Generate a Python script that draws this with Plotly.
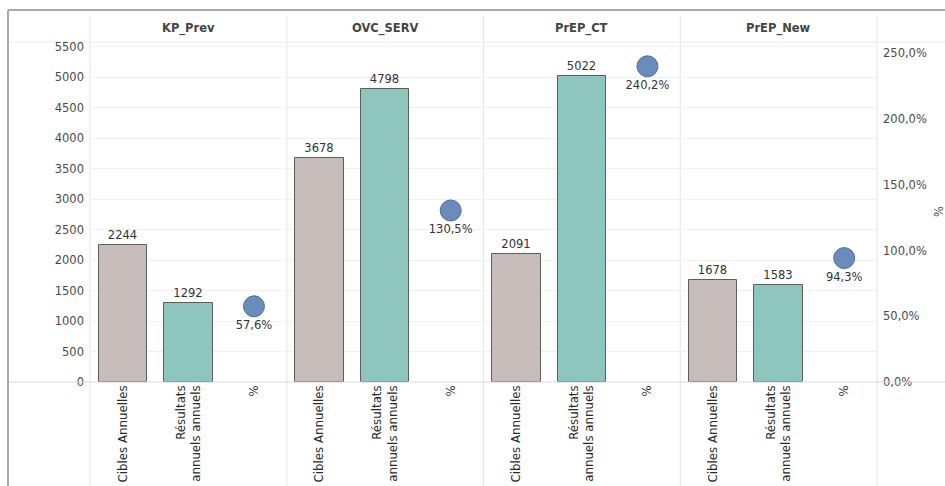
import plotly.graph_objects as go

# Indicators (panels) and the three measures shown in each
indicators = ["KP_Prev", "OVC_SERV", "PrEP_CT", "PrEP_New"]
measure_labels = ["Cibles Annuelles", "Résultats<br>annuels annuels", "%"]
cibles = [2244, 3678, 2091, 1678]
resultats = [1292, 4798, 5022, 1583]
pourcent = [57.6, 130.5, 240.2, 94.3]

count_ticks = list(range(0, 5501, 500))
pct_ticks = [0, 50, 100, 150, 200, 250]

n = len(indicators)
slots = 3
x_cib = [i * slots + 0 for i in range(n)]
x_res = [i * slots + 1 for i in range(n)]
x_pct = [i * slots + 2 for i in range(n)]

fmt_pct = lambda v: f"{v:.1f}".replace(".", ",") + "%"

FONT = "DejaVu Sans"
TXT = "#333333"
TICK = "#4a4a4a"

fig = go.Figure()

bar_line = dict(color="rgba(70,70,70,0.85)", width=1)
fig.add_trace(go.Bar(
    x=x_cib, y=cibles, width=0.74,
    marker=dict(color="#c6bdba", line=bar_line),
    text=[str(v) for v in cibles], textposition="outside",
    textfont=dict(family=FONT, size=11.5, color=TXT),
    cliponaxis=False, showlegend=False, yaxis="y",
))
fig.add_trace(go.Bar(
    x=x_res, y=resultats, width=0.74,
    marker=dict(color="#8ec5be", line=bar_line),
    text=[str(v) for v in resultats], textposition="outside",
    textfont=dict(family=FONT, size=11.5, color=TXT),
    cliponaxis=False, showlegend=False, yaxis="y",
))
fig.add_trace(go.Scatter(
    x=x_pct, y=pourcent, mode="markers+text",
    marker=dict(size=21, color="#6a8cba", line=dict(color="#4f6f9a", width=1)),
    text=[fmt_pct(v) for v in pourcent], textposition="bottom center",
    textfont=dict(family=FONT, size=11.5, color=TXT),
    cliponaxis=False, showlegend=False, yaxis="y2",
))

tickvals = x_cib + x_res + x_pct
ticktext = [measure_labels[0]] * n + [measure_labels[1]] * n + [measure_labels[2]] * n

W, H = 945, 486
L, R, T, B = 90, 68, 42, 104
pw, ph = W - L - R, H - T - B

def px_x(p):
    return (p - L) / pw

def px_y(p):
    return (H - B - p) / ph

fig.update_layout(
    width=W, height=H,
    margin=dict(l=L, r=R, t=T, b=B, autoexpand=False),
    paper_bgcolor="white", plot_bgcolor="white",
    separators=", ",
    bargap=0,
    font=dict(family=FONT, size=11, color=TXT),
    xaxis=dict(
        range=[-0.5, n * slots - 0.5], tickmode="array",
        tickvals=tickvals, ticktext=ticktext, tickangle=-90,
        tickfont=dict(family=FONT, size=11.8, color="#2a2a2a"),
        showgrid=False, zeroline=False, showline=False, ticks="",
        automargin=False,
    ),
    yaxis=dict(
        range=[0, 5575], tickmode="array", tickvals=count_ticks,
        tickfont=dict(family=FONT, size=11.5, color=TICK),
        showgrid=True, gridcolor="#f1f1f1", gridwidth=1,
        zeroline=False, showline=False, ticks="", ticklabelstandoff=5,
        automargin=False,
    ),
    yaxis2=dict(
        range=[0, 258.7], overlaying="y", side="right",
        tickmode="array", tickvals=pct_ticks,
        ticktext=[fmt_pct(v) for v in pct_ticks],
        tickfont=dict(family=FONT, size=11.5, color=TICK),
        showgrid=False, zeroline=False, showline=False, ticks="",
        ticklabelstandoff=5, automargin=False,
    ),
)

shapes = []
line_light = dict(color="#e3e3e3", width=1)
# vertical separators: plot edges and between indicator panels
for xp in [L, W - R]:
    shapes.append(dict(type="line", xref="paper", yref="paper",
                       x0=px_x(xp), x1=px_x(xp), y0=px_y(16), y1=px_y(H),
                       line=line_light, layer="below"))
for i in range(1, n):
    xb = i * slots - 0.5
    shapes.append(dict(type="line", xref="x", yref="paper",
                       x0=xb, x1=xb, y0=px_y(16), y1=px_y(H),
                       line=line_light, layer="below"))
# header row bottom and baseline
shapes.append(dict(type="line", xref="paper", yref="paper",
                   x0=px_x(8), x1=px_x(W), y0=px_y(42), y1=px_y(42),
                   line=dict(color="#ebebeb", width=1), layer="below"))
shapes.append(dict(type="line", xref="paper", yref="paper",
                   x0=px_x(8), x1=px_x(W), y0=px_y(382), y1=px_y(382),
                   line=dict(color="#d9d9d9", width=1), layer="above"))
# outer frame (top and left)
shapes.append(dict(type="line", xref="paper", yref="paper",
                   x0=px_x(8), x1=px_x(W), y0=px_y(10), y1=px_y(10),
                   line=dict(color="#a8a8a8", width=2)))
shapes.append(dict(type="line", xref="paper", yref="paper",
                   x0=px_x(8), x1=px_x(8), y0=px_y(10), y1=px_y(H),
                   line=dict(color="#a8a8a8", width=2)))
fig.update_layout(shapes=shapes)

# panel headers
for i, name in enumerate(indicators):
    fig.add_annotation(
        x=i * slots + 1, xref="x", y=px_y(29), yref="paper",
        text=f"<b>{name}</b>", showarrow=False,
        font=dict(family=FONT, size=11.5, color="#444"),
        xanchor="center", yanchor="middle",
    )

# right axis title
fig.add_annotation(
    x=px_x(939), xref="paper", y=px_y(212), yref="paper",
    text="%", textangle=-90, showarrow=False,
    font=dict(family=FONT, size=11.5, color=TICK),
    xanchor="center", yanchor="middle",
)

fig.write_html("out.html")
